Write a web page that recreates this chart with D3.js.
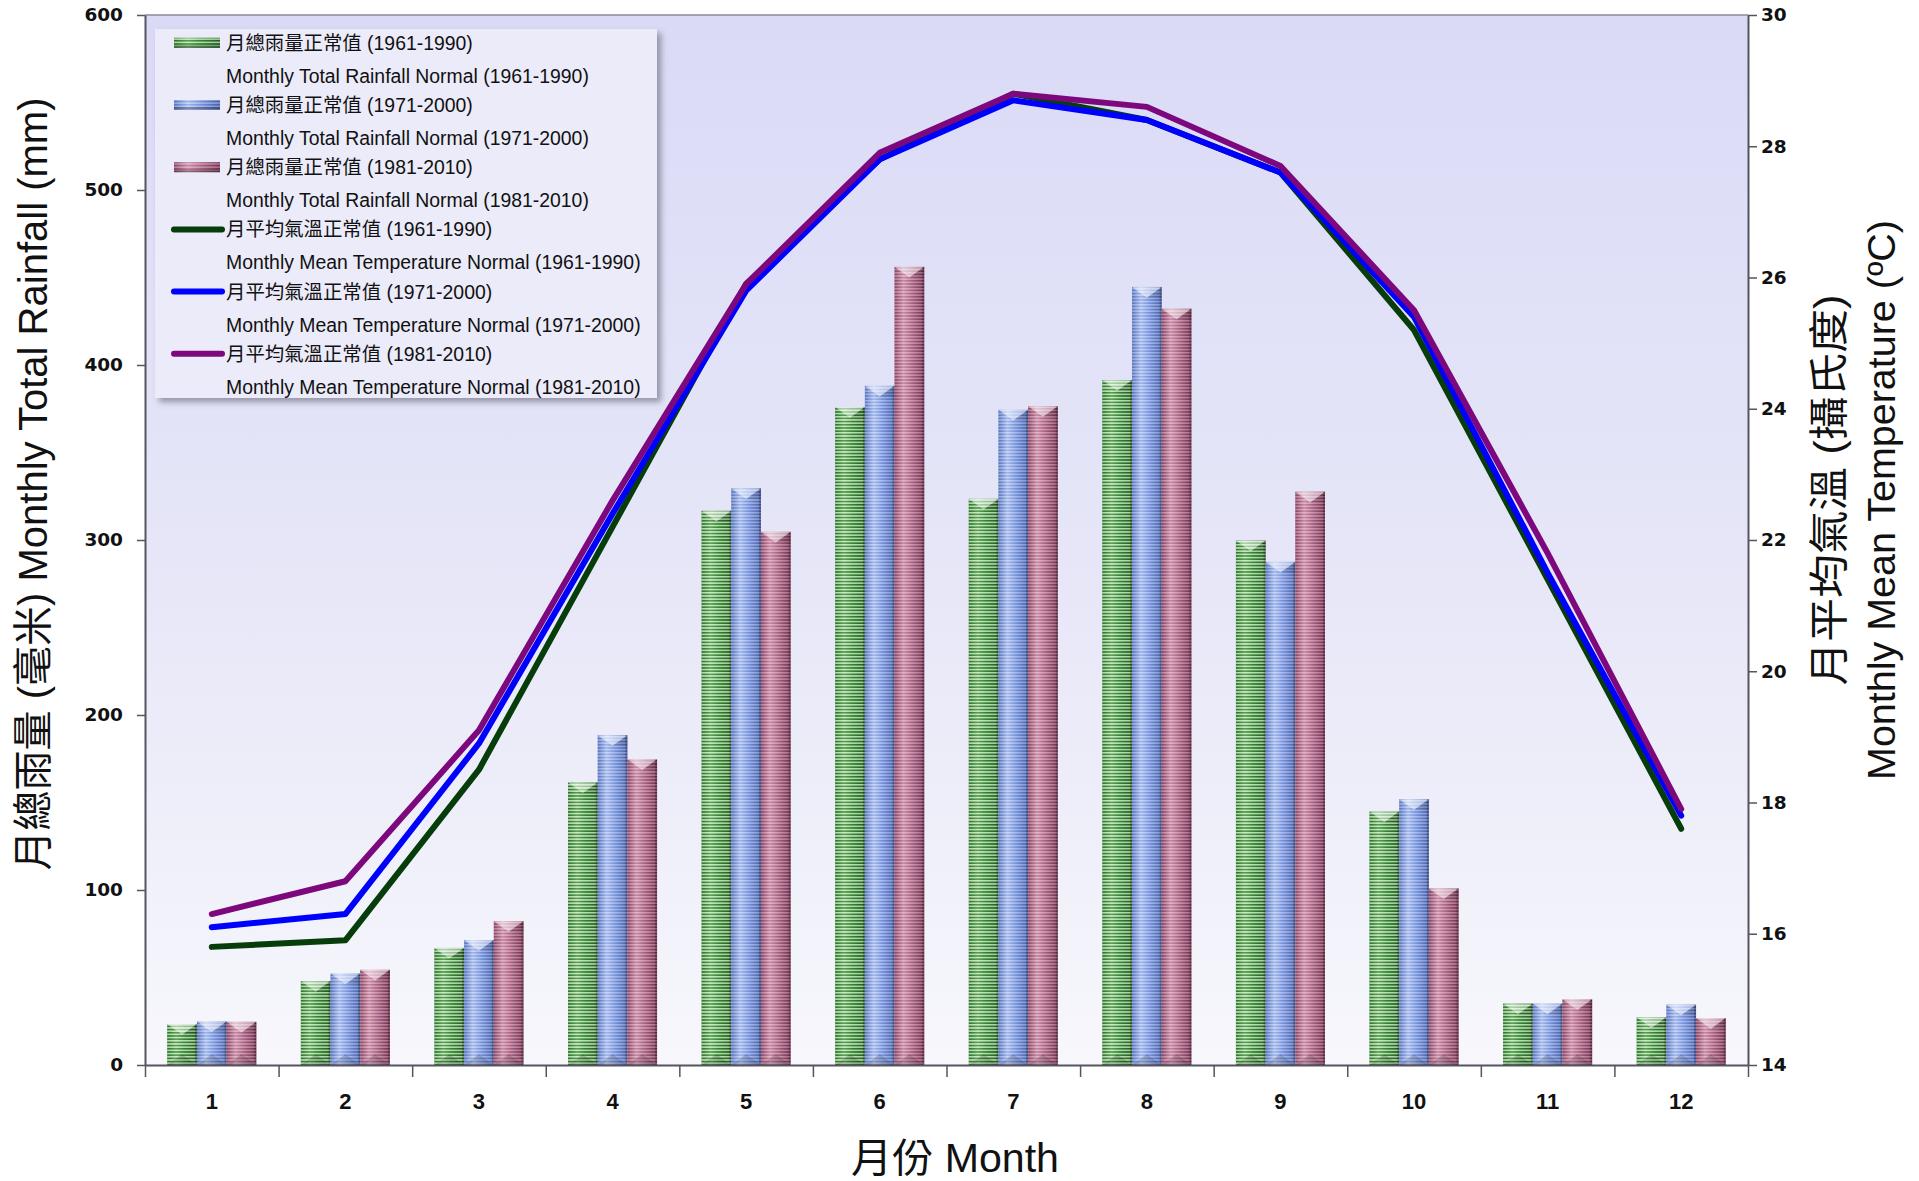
<!DOCTYPE html>
<html>
<head>
<meta charset="utf-8">
<script src="https://cdn.jsdelivr.net/npm/d3@7"></script>
<style>
  body { margin: 0; background: #ffffff; }
  svg { display: block; }
</style>
</head>
<body>
<svg id="chart" width="1919" height="1181"></svg>
<script>
// Monthly categories
const months = ["1", "2", "3", "4", "5", "6", "7", "8", "9", "10", "11", "12"];

// Monthly total rainfall normals (mm)
const rain6190 = [23.4, 48.0, 66.9, 161.5, 316.7, 376.0, 323.5, 391.4, 299.7, 144.8, 35.1, 27.3];
const rain7100 = [24.9, 52.3, 71.4, 188.5, 329.5, 388.1, 374.4, 444.6, 287.5, 151.9, 35.1, 34.5];
const rain8110 = [24.7, 54.4, 82.2, 174.7, 304.7, 456.1, 376.5, 432.2, 327.6, 100.9, 37.6, 26.8];

// Monthly mean temperature normals (°C)
const temp6190 = [15.8, 15.9, 18.5, 22.2, 25.9, 27.8, 28.8, 28.4, 27.6, 25.2, 21.4, 17.6];
const temp7100 = [16.1, 16.3, 18.9, 22.4, 25.8, 27.8, 28.7, 28.4, 27.6, 25.4, 21.5, 17.8];
const temp8110 = [16.3, 16.8, 19.1, 22.6, 25.9, 27.9, 28.8, 28.6, 27.7, 25.5, 21.8, 17.9];

// Axis ticks
const rainTicks = [0, 100, 200, 300, 400, 500, 600];
const tempTicks = [14, 16, 18, 20, 22, 24, 26, 28, 30];

// Legend texts
const legendZh = [
  "月總雨量正常值 (1961-1990)", "月總雨量正常值 (1971-2000)", "月總雨量正常值 (1981-2010)",
  "月平均氣溫正常值 (1961-1990)", "月平均氣溫正常值 (1971-2000)", "月平均氣溫正常值 (1981-2010)"
];
const legendEn = [
  "Monthly Total Rainfall Normal (1961-1990)", "Monthly Total Rainfall Normal (1971-2000)",
  "Monthly Total Rainfall Normal (1981-2010)", "Monthly Mean Temperature Normal (1961-1990)",
  "Monthly Mean Temperature Normal (1971-2000)", "Monthly Mean Temperature Normal (1981-2010)"
];

const rainSeries = [rain6190, rain7100, rain8110];
const tempSeries = [temp6190, temp7100, temp8110];
const barKeys = ["g", "b", "p"];
const lineColors = ["#063d0a", "#0000ff", "#7d087d"];

// Bar shading: [left edge, highlight, middle, right edge], stripe light, stripe dark
const barStyle = {
  g: { stops: ["#3a8a3a", "#8fd48a", "#4fa64f", "#2a682a"], light: "#e8f6da", lightOp: 0.7, dark: "#0f520f", darkOp: 0.5 },
  b: { stops: ["#5a78c2", "#b8cbf6", "#84a0e6", "#4a62aa"], light: "#e4ebff", lightOp: 0.38, dark: "#34509e", darkOp: 0.22 },
  p: { stops: ["#8c4a68", "#dca4bc", "#b67292", "#723250"], light: "#f4cadb", lightOp: 0.42, dark: "#622244", darkOp: 0.25 }
};

const plot = { left: 145, right: 1748, top: 15, bottom: 1065 };
const svg = d3.select("#chart");
const defs = svg.append("defs");

// Plot background gradient
const bg = defs.append("linearGradient").attr("id", "plotBg")
  .attr("x1", 0).attr("y1", 0).attr("x2", 0).attr("y2", 1);
bg.append("stop").attr("offset", "0%").attr("stop-color", "#dadaf7");
bg.append("stop").attr("offset", "55%").attr("stop-color", "#e7e7f8");
bg.append("stop").attr("offset", "100%").attr("stop-color", "#f7f7fc");

// Cylinder gradients and stripe patterns for bars
barKeys.forEach(k => {
  const s = barStyle[k];
  const g = defs.append("linearGradient").attr("id", "grad-" + k)
    .attr("x1", 0).attr("y1", 0).attr("x2", 1).attr("y2", 0);
  [0, 0.3, 0.58, 1].forEach((o, i) =>
    g.append("stop").attr("offset", o).attr("stop-color", s.stops[i]));
  const p = defs.append("pattern").attr("id", "stripe-" + k)
    .attr("patternUnits", "userSpaceOnUse").attr("width", 8).attr("height", 3.2);
  p.append("rect").attr("x", 0).attr("y", 0).attr("width", 8).attr("height", 1.5)
    .attr("fill", s.light).attr("fill-opacity", s.lightOp);
  p.append("rect").attr("x", 0).attr("y", 1.7).attr("width", 8).attr("height", 1.3)
    .attr("fill", s.dark).attr("fill-opacity", s.darkOp);
});

// Legend shadow
const sh = defs.append("filter").attr("id", "legendShadow")
  .attr("x", "-5%").attr("y", "-5%").attr("width", "115%").attr("height", "115%");
sh.append("feDropShadow").attr("dx", 4).attr("dy", 4).attr("stdDeviation", 3)
  .attr("flood-color", "#5e5e70").attr("flood-opacity", 0.6);

// Scales
const x0 = d3.scaleBand().domain(months).range([plot.left, plot.right])
  .paddingInner(1 / 3).paddingOuter(1 / 6);
const x1 = d3.scaleBand().domain([0, 1, 2]).range([0, x0.bandwidth()]);
const xEdge = d3.scaleLinear().domain([0, 12]).range([plot.left, plot.right]);
const yRain = d3.scaleLinear().domain([0, 600]).range([plot.bottom, plot.top]);
const yTemp = d3.scaleLinear().domain([14, 30]).range([plot.bottom, plot.top]);

// Plot area
svg.append("rect")
  .attr("x", plot.left).attr("y", plot.top)
  .attr("width", plot.right - plot.left).attr("height", plot.bottom - plot.top)
  .attr("fill", "url(#plotBg)");
svg.append("line")
  .attr("x1", plot.left).attr("x2", plot.right)
  .attr("y1", plot.top).attr("y2", plot.top)
  .attr("stroke", "#8a8a9a").attr("stroke-width", 1.5);

// Bars
const barLayer = svg.append("g");
rainSeries.forEach((vals, si) => {
  const k = barKeys[si];
  const grp = barLayer.append("g");
  vals.forEach((v, mi) => {
    const xa = x0(months[mi]) + x1(si);
    const w = x1.bandwidth();
    const yt = yRain(v), yb = yRain(0);
    const h = yb - yt;
    const bev = Math.min(w * 0.36, h / 2);
    const xc = xa + w / 2;
    grp.append("rect").attr("x", xa).attr("y", yt).attr("width", w).attr("height", h)
      .attr("fill", `url(#grad-${k})`);
    grp.append("rect").attr("x", xa).attr("y", yt).attr("width", w).attr("height", h)
      .attr("fill", `url(#stripe-${k})`);
    // top bevel
    grp.append("path")
      .attr("d", `M${xa},${yt}L${xa + w},${yt}L${xc},${yt + bev}Z`)
      .attr("fill", "#ffffff").attr("fill-opacity", 0.5);
    grp.append("path")
      .attr("d", `M${xa + w},${yt}L${xa + w},${yt + bev}L${xc},${yt + bev}Z`)
      .attr("fill", "#000000").attr("fill-opacity", 0.1);
    // bottom bevel
    grp.append("path")
      .attr("d", `M${xa},${yb}L${xa + w},${yb}L${xc},${yb - bev}Z`)
      .attr("fill", "#000000").attr("fill-opacity", 0.16);
    // right edge shade
    grp.append("rect").attr("x", xa + w - 2).attr("y", yt).attr("width", 2).attr("height", h)
      .attr("fill", "#000000").attr("fill-opacity", 0.2);
  });
});

// Temperature lines
const xc = m => x0(m) + x0.bandwidth() / 2;
const line = d3.line().x((d, i) => xc(months[i])).y(d => yTemp(d));
tempSeries.forEach((vals, si) => {
  svg.append("path").datum(vals)
    .attr("d", line)
    .attr("fill", "none")
    .attr("stroke", lineColors[si])
    .attr("stroke-width", 6)
    .attr("stroke-linejoin", "round")
    .attr("stroke-linecap", "round");
});

// Axes
const axisColor = "#555560";
const leftAxis = svg.append("g").attr("transform", `translate(${plot.left},0)`)
  .call(d3.axisLeft(yRain).tickValues(rainTicks).tickSize(8).tickSizeOuter(0).tickPadding(14));
leftAxis.select(".domain").attr("stroke", axisColor).attr("stroke-width", 2);
leftAxis.selectAll(".tick line").attr("stroke", axisColor).attr("stroke-width", 1.5);
leftAxis.selectAll("text")
  .attr("font-family", "DejaVu Sans, sans-serif").attr("font-weight", "bold")
  .attr("font-size", 18.5).attr("fill", "#111");

const rightAxis = svg.append("g").attr("transform", `translate(${plot.right},0)`)
  .call(d3.axisRight(yTemp).tickValues(tempTicks).tickSize(9).tickSizeOuter(0).tickPadding(4));
rightAxis.select(".domain").attr("stroke", axisColor).attr("stroke-width", 2);
rightAxis.selectAll(".tick line").attr("stroke", axisColor).attr("stroke-width", 1.5);
rightAxis.selectAll("text")
  .attr("font-family", "DejaVu Sans, sans-serif").attr("font-weight", "bold")
  .attr("font-size", 18.5).attr("fill", "#111");

const edgeAxis = svg.append("g").attr("transform", `translate(0,${plot.bottom})`)
  .call(d3.axisBottom(xEdge).tickValues(d3.range(0, 13)).tickSize(12).tickSizeOuter(0).tickFormat(""));
edgeAxis.select(".domain").attr("stroke", axisColor).attr("stroke-width", 2);
edgeAxis.selectAll(".tick line").attr("stroke", axisColor).attr("stroke-width", 1.5);

const monthAxis = svg.append("g").attr("transform", `translate(0,${plot.bottom})`)
  .call(d3.axisBottom(x0).tickSize(0).tickPadding(28));
monthAxis.select(".domain").remove();
monthAxis.selectAll("text")
  .attr("font-family", "Liberation Sans, Arial, sans-serif").attr("font-weight", "bold")
  .attr("font-size", 22).attr("fill", "#111");

// Axis titles
const titleFont = "Liberation Sans, 'Noto Sans CJK TC', sans-serif";
svg.append("text")
  .attr("transform", "translate(47,484) rotate(-90)")
  .attr("text-anchor", "middle")
  .attr("font-family", titleFont).attr("font-size", 40).attr("fill", "#111")
  .attr("textLength", 773).attr("lengthAdjust", "spacingAndGlyphs")
  .text("月總雨量 (毫米) Monthly Total Rainfall (mm)");
svg.append("text")
  .attr("transform", "translate(1843,490) rotate(-90)")
  .attr("text-anchor", "middle")
  .attr("font-family", titleFont).attr("font-size", 40).attr("fill", "#111")
  .attr("textLength", 391).attr("lengthAdjust", "spacingAndGlyphs")
  .text("月平均氣溫 (攝氏度)");
svg.append("text")
  .attr("transform", "translate(1895,500) rotate(-90)")
  .attr("text-anchor", "middle")
  .attr("font-family", titleFont).attr("font-size", 39).attr("fill", "#111")
  .attr("textLength", 560).attr("lengthAdjust", "spacingAndGlyphs")
  .text("Monthly Mean Temperature (ºC)");
svg.append("text")
  .attr("x", 955).attr("y", 1172)
  .attr("text-anchor", "middle")
  .attr("font-family", titleFont).attr("font-size", 40).attr("fill", "#111")
  .attr("textLength", 208).attr("lengthAdjust", "spacingAndGlyphs")
  .text("月份 Month");

// Legend
const legend = svg.append("g");
legend.append("rect")
  .attr("x", 155).attr("y", 29).attr("width", 502).attr("height", 369)
  .attr("fill", "#ebebf9").attr("filter", "url(#legendShadow)");
const legFont = "Liberation Sans, 'Noto Sans CJK TC', sans-serif";
legendZh.forEach((zh, i) => {
  const cy = 42.8 + i * 62.2;
  const item = legend.append("g");
  if (i < 3) {
    const k = barKeys[i];
    item.append("rect").attr("x", 174).attr("y", cy - 5).attr("width", 46).attr("height", 10)
      .attr("fill", `url(#grad-${k})`);
    item.append("rect").attr("x", 174).attr("y", cy - 5).attr("width", 46).attr("height", 10)
      .attr("fill", `url(#stripe-${k})`);
    item.append("rect").attr("x", 174).attr("y", cy + 2).attr("width", 46).attr("height", 3)
      .attr("fill", "#000").attr("fill-opacity", 0.25);
  } else {
    item.append("line").attr("x1", 174).attr("x2", 222).attr("y1", cy).attr("y2", cy)
      .attr("stroke", lineColors[i - 3]).attr("stroke-width", 6).attr("stroke-linecap", "round");
  }
  item.append("text").attr("x", 226).attr("y", cy).attr("dy", "0.36em")
    .attr("font-family", legFont).attr("font-size", 19.4).attr("fill", "#111")
    .text(zh);
  item.append("text").attr("x", 226).attr("y", cy + 33).attr("dy", "0.36em")
    .attr("font-family", legFont).attr("font-size", 19.4).attr("fill", "#111")
    .text(legendEn[i]);
});
</script>
</body>
</html>
